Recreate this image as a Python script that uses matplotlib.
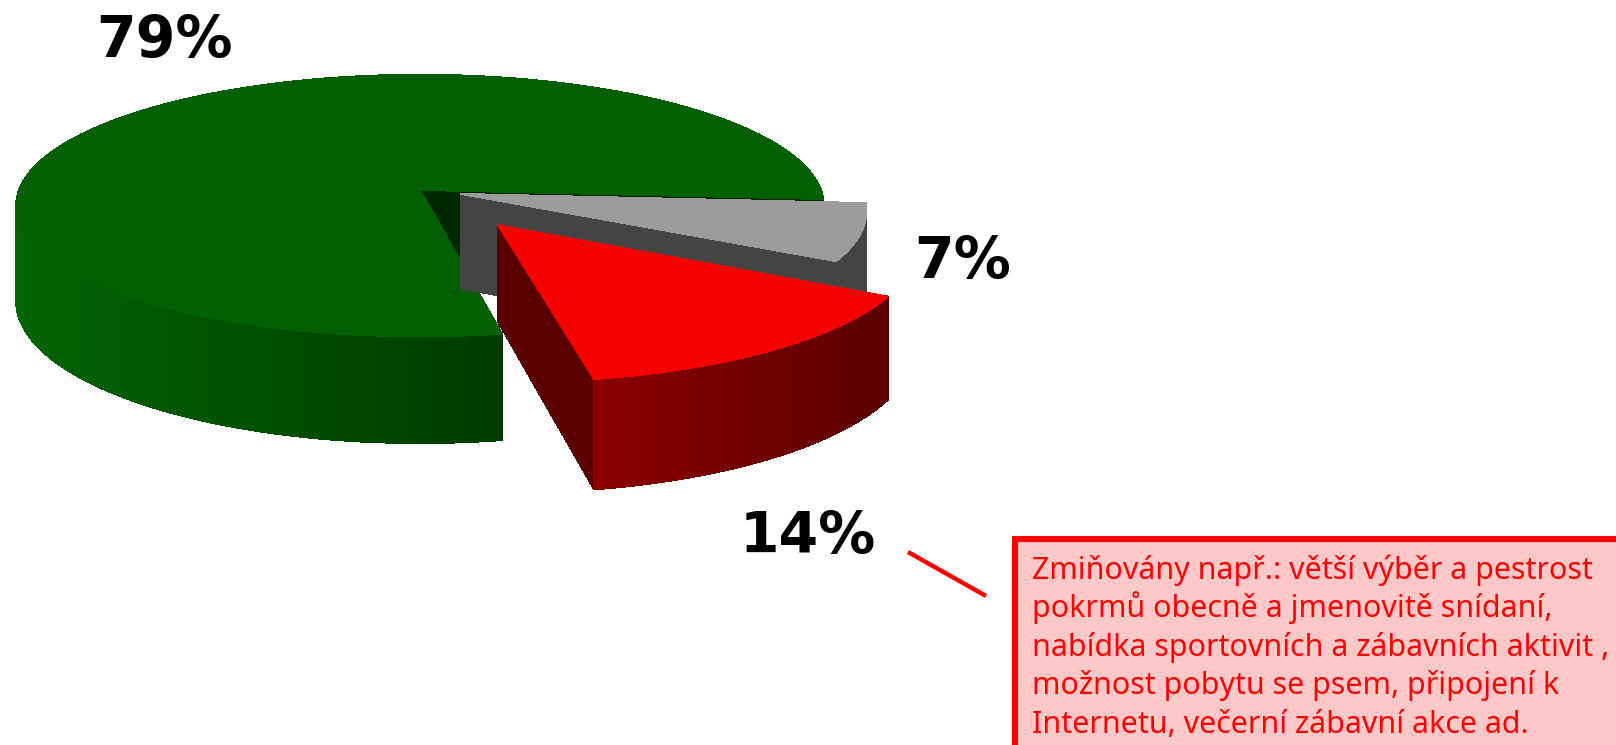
import numpy as np
import matplotlib
matplotlib.use('Agg')
import matplotlib.pyplot as plt
from matplotlib.patches import Polygon, Rectangle

# pie values, order is clockwise from the right side
names = ['green', 'grey', 'red']
shares = [79, 7, 14]
share_labels = ['79%', '7%', '14%']
label_pos = [(96, 57), (914, 278), (740, 553)]
explode = [0.0, 0.105, 0.325]

top_colors = ['#025f02', '#9c9c9c', '#f70000']
wall_colors = ['#002800', '#444444', '#5a0000']
side_left = ['#026402', '#444444', '#8c0000']
side_right = ['#003c00', '#444444', '#5a0000']

note_lines = [
    'Zmiňovány např.: větší výběr a pestrost',
    'pokrmů obecně a jmenovitě snídaní,',
    'nabídka sportovních a zábavních aktivit ,',
    'možnost pobytu se psem, připojení k',
    'Internetu, večerní zábavní akce ad.',
]

# the pie is a tilted disc, k gives the perspective
CX, CY = 420, 190
A, B, K = 401, 129, 0.119
DEPTH = 94
START = -4.0


def project(x, y, down=0.0):
    w = 1 + K * y
    return CX + A * x / w, CY - B * y / w + down * DEPTH / w


def mix(c1, c2, t):
    a = np.array(matplotlib.colors.to_rgb(c1))
    b = np.array(matplotlib.colors.to_rgb(c2))
    return tuple(a + (b - a) * t)


def poly(ax, pts, color):
    ax.add_patch(Polygon(pts, closed=True, facecolor=color, edgecolor=color,
                         lw=0.6, antialiased=False))


def draw_slice(ax, i, a0, a1):
    # a0 > a1, going clockwise
    mid = np.radians((a0 + a1) / 2)
    ox, oy = explode[i] * np.cos(mid), explode[i] * np.sin(mid)
    th = np.radians(np.linspace(a0, a1, 240))
    xs = ox + np.cos(th)
    ys = oy + np.sin(th)
    top = [project(x, y) for x, y in zip(xs, ys)]
    low = [project(x, y, 1) for x, y in zip(xs, ys)]
    apex = project(ox, oy)
    apex_low = project(ox, oy, 1)

    # cut walls, the first one is hidden by the top for the green slice
    poly(ax, [apex, top[0], low[0], apex_low], wall_colors[i])
    poly(ax, [apex, top[-1], low[-1], apex_low], wall_colors[i])

    # outer side, only the front part is seen
    px = np.array([p[0] for p in top])
    front = (np.sin(th) < 0.03) & (np.cos(th) < 0.9 if i == 0 else True)
    idx = np.where(front)[0]
    lo, hi = px[idx].min(), px[idx].max()
    for j in idx:
        if j + 1 >= len(top) or not front[j + 1]:
            continue
        t = (px[j] - lo) / max(hi - lo, 1)
        poly(ax, [top[j], top[j + 1], low[j + 1], low[j]],
             mix(side_left[i], side_right[i], t))
    poly(ax, [apex] + top, top_colors[i])


fig = plt.figure(figsize=(16.16, 7.45), dpi=100)
ax = fig.add_axes([0, 0, 1, 1])
ax.set_xlim(0, 1616)
ax.set_ylim(745, 0)
ax.axis('off')

# green takes the long way round, grey and red go clockwise from its end
grey_a0 = START
grey_a1 = grey_a0 - shares[1] * 3.6
red_a0 = grey_a1
red_a1 = red_a0 - shares[2] * 3.6

draw_slice(ax, 0, START + shares[0] * 3.6, START)
draw_slice(ax, 1, grey_a0, grey_a1)
draw_slice(ax, 2, red_a0, red_a1)

for s, p in zip(share_labels, label_pos):
    ax.text(p[0], p[1], s, fontsize=41, fontweight='bold', color='black',
            family='DejaVu Sans', va='baseline', ha='left')

# callout
ax.plot([908, 986], [552, 596], color='#ff0000', lw=3.2, solid_capstyle='butt')
ax.add_patch(Rectangle((1015, 539), 640, 260, facecolor='#ffc8c8',
                       edgecolor='#ff0000', lw=4.4))
for n, line in enumerate(note_lines):
    ax.text(1032, 579 + n * 38.4, line, fontsize=21.9, color='#ff0000',
            family='Noto Sans', va='baseline', ha='left')

fig.savefig('out.png', dpi=100)
